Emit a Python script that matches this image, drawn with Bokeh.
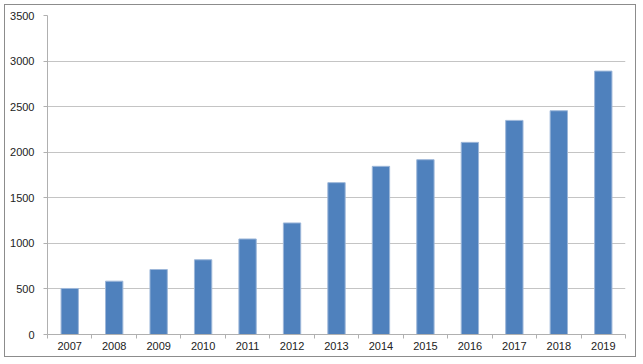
from bokeh.plotting import figure
from bokeh.models import FixedTicker, Range1d, ColumnDataSource
from bokeh.embed import file_html
from bokeh.resources import INLINE

years = ["2007", "2008", "2009", "2010", "2011", "2012", "2013",
         "2014", "2015", "2016", "2017", "2018", "2019"]
values = [505, 585, 713, 820, 1048, 1224, 1666, 1845, 1918, 2108, 2349, 2455, 2890]
y_ticks = [0, 500, 1000, 1500, 2000, 2500, 3000, 3500]

idx = list(range(len(years)))
src = ColumnDataSource(dict(x=idx, top=values, year=years))

p = figure(width=632, height=353, output_backend="svg", toolbar_location=None,
           x_range=Range1d(-0.5, len(years) - 0.5), y_range=Range1d(0, 3500),
           min_border_left=42, min_border_right=12, min_border_top=10, min_border_bottom=24)
p.styles = {"border": "1px solid #8c8c8c",
            "margin-left": "4px", "margin-top": "4px"}
p.outline_line_color = None
p.background_fill_color = "white"
p.border_fill_color = "white"

p.vbar(x="x", top="top", bottom=0, width=0.39, source=src,
       fill_color="#4F81BD", line_color="#9DB7D9", line_width=1)

font = "Liberation Sans"
# x axis
xa = p.xaxis[0]
xa.ticker = FixedTicker(ticks=idx, minor_ticks=[i - 0.5 for i in range(len(years) + 1)])
xa.major_label_overrides = {i: y for i, y in zip(idx, years)}
xa.major_tick_line_color = None
xa.major_tick_out = 0
xa.major_tick_in = 0
xa.minor_tick_line_color = "#B0B0B0"
xa.minor_tick_out = 4
xa.minor_tick_in = 0
xa.axis_line_color = "#B0B0B0"
xa.major_label_text_font = font
xa.major_label_text_font_size = "11px"
xa.major_label_text_color = "#222222"
xa.major_label_standoff = 3

# y axis
ya = p.yaxis[0]
ya.ticker = FixedTicker(ticks=y_ticks, minor_ticks=[])
ya.major_tick_line_color = "#B0B0B0"
ya.major_tick_out = 4
ya.major_tick_in = 0
ya.minor_tick_line_color = None
ya.minor_tick_out = 0
ya.axis_line_color = "#B0B0B0"
ya.major_label_text_font = font
ya.major_label_text_font_size = "11px"
ya.major_label_text_color = "#222222"
ya.major_label_standoff = 9

p.xgrid.grid_line_color = None
p.ygrid.ticker = FixedTicker(ticks=y_ticks)
p.ygrid.grid_line_color = "#C4C4C4"
p.ygrid.grid_line_width = 1

open("out.html", "w").write(file_html(p, INLINE))
